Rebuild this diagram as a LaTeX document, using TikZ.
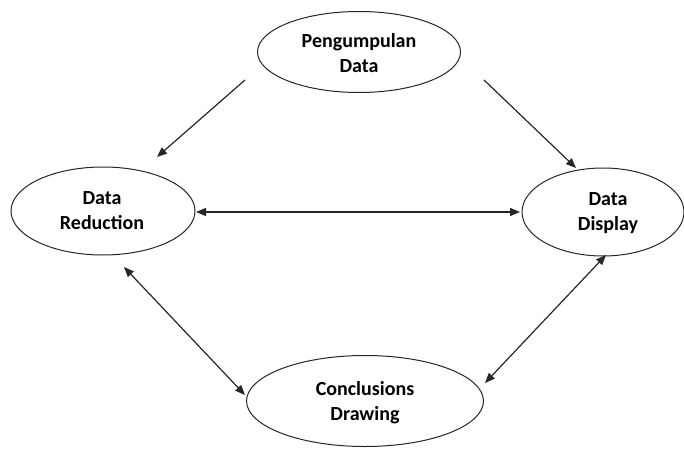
\documentclass[tikz,border=0pt]{standalone}
\usepackage{fontspec}
\setmainfont{Carlito}
\usetikzlibrary{arrows.meta,shapes.geometric}
\begin{document}
\begin{tikzpicture}[x=1pt,y=-1pt,
  oval/.style={draw=black!85, line width=1pt, ellipse, inner sep=0pt},
  lbl/.style={align=center, inner sep=0pt, font=\bfseries\fontsize{20}{25}\selectfont},
  conn/.style={draw=black!85, line width=1.2pt, -{Triangle[length=10pt,width=8pt]}},
  bconn/.style={draw=black!85, line width=1.2pt, {Triangle[length=10pt,width=8pt]}-{Triangle[length=10pt,width=8pt]}}]
\useasboundingbox (0,0) rectangle (684,449);
% ellipses
\node[oval, minimum width=203pt, minimum height=81pt] (pd) at (359,52) {};
\node[oval, minimum width=184pt, minimum height=88pt] (dr) at (103,211) {};
\node[oval, minimum width=162pt, minimum height=88pt] (dd) at (603,212) {};
\node[oval, minimum width=237pt, minimum height=91pt] (cd) at (365,401) {};
% labels
\node[lbl] (pdt) at (359,53.5) {Pengumpulan\\Data};
\node[lbl] (drt) at (102,210.5) {Data\\Reduction};
\node[lbl] (ddt) at (608,213) {Data\\Display};
\node[lbl] (cdt) at (365,403) {Conclusions\\Drawing};
% connector ends
\coordinate (a1) at (245,80);
\coordinate (a2) at (157,157);
\coordinate (b1) at (484,80);
\coordinate (b2) at (576,168);
\coordinate (h1) at (196,212);
\coordinate (h2) at (520,212);
\coordinate (l1) at (124,267);
\coordinate (l2) at (245,395);
\coordinate (r1) at (606,255);
\coordinate (r2) at (485,383);
% connectors
\draw[conn] (a1) -- (a2);
\draw[conn] (b1) -- (b2);
\draw[bconn] (h1) -- (h2);
\draw[bconn] (l1) -- (l2);
\draw[bconn] (r1) -- (r2);
\end{tikzpicture}
\end{document}
